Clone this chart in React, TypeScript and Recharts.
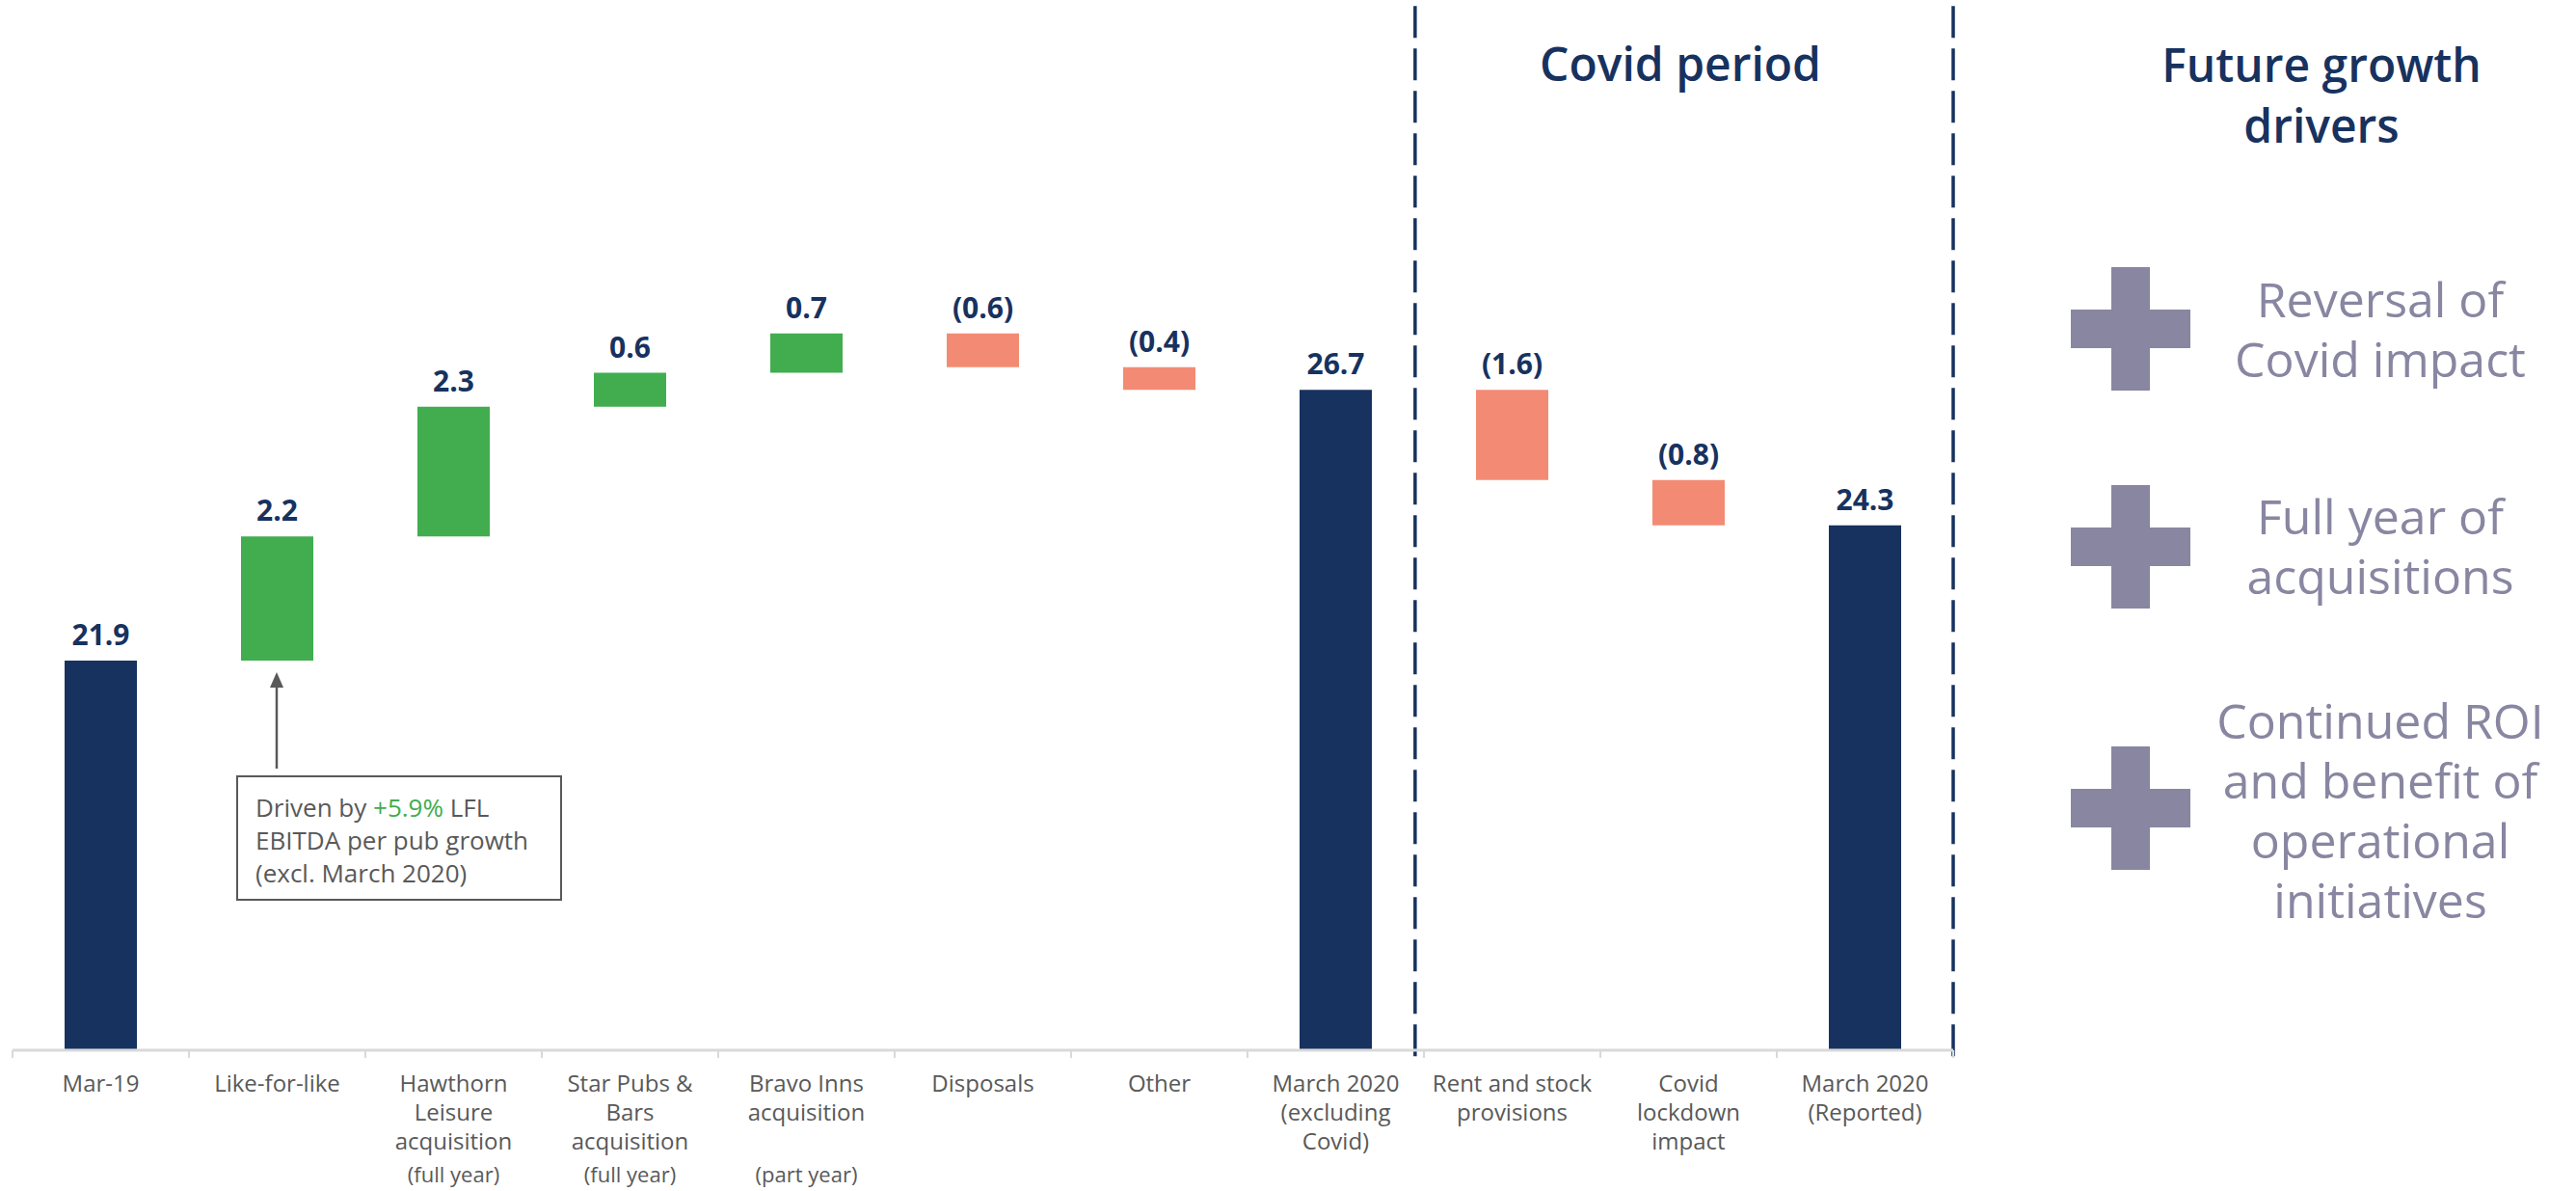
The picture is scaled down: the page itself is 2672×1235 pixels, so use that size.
import React from 'react';
import { BarChart, Bar, XAxis, YAxis, Cell, LabelList, ReferenceLine } from 'recharts';

const NAVY = '#17325F';
const GREEN = '#41AD4F';
const SALMON = '#F38B74';
const GRAY = '#595959';
const PURPLE = '#8886A1';
const AXIS_GRAY = '#D9D9D9';
const FONT = '"Open Sans", "Noto Sans", Arial, sans-serif';

const categories = [
  'Mar-19',
  'Like-for-like',
  'Hawthorn Leisure acquisition',
  'Star Pubs & Bars acquisition',
  'Bravo Inns acquisition',
  'Disposals',
  'Other',
  'March 2020 (excluding Covid)',
  'Rent and stock provisions',
  'Covid lockdown impact',
  'March 2020 (Reported)',
];

const tickLines: string[][] = [
  ['Mar-19'],
  ['Like-for-like'],
  ['Hawthorn', 'Leisure', 'acquisition'],
  ['Star Pubs &', 'Bars', 'acquisition'],
  ['Bravo Inns', 'acquisition'],
  ['Disposals'],
  ['Other'],
  ['March 2020', '(excluding', 'Covid)'],
  ['Rent and stock', 'provisions'],
  ['Covid', 'lockdown', 'impact'],
  ['March 2020', '(Reported)'],
];

const tickNotes = ['', '', '(full year)', '(full year)', '(part year)', '', '', '', '', '', ''];

const values = [21.9, 2.2, 2.3, 0.6, 0.7, -0.6, -0.4, 26.7, -1.6, -0.8, 24.3];
const isTotal = [true, false, false, false, false, false, false, true, false, false, true];

const Y_DOMAIN: [number, number] = [15, 30];
const X_TICKS = [0, 1, 2, 3, 4, 5, 6, 7, 8, 9, 10, 11];
const DIVIDERS = [7.95, 11];

const driverTitle = ['Future growth', 'drivers'];
const covidTitle = 'Covid period';
const drivers: string[][] = [
  ['Reversal of', 'Covid impact'],
  ['Full year of', 'acquisitions'],
  ['Continued ROI', 'and benefit of', 'operational', 'initiatives'],
];

let running = 0;
const data = categories.map((name, i) => {
  const v = values[i];
  let low: number;
  let high: number;
  if (isTotal[i]) {
    low = Y_DOMAIN[0];
    high = v;
    running = v;
  } else {
    const start = running;
    const end = running + v;
    low = Math.min(start, end);
    high = Math.max(start, end);
    running = end;
  }
  const label = isTotal[i] || v >= 0 ? v.toFixed(1) : `(${Math.abs(v).toFixed(1)})`;
  const color = isTotal[i] ? NAVY : v >= 0 ? GREEN : SALMON;
  return { name, range: [low, high], label, color, pos: i + 0.5 };
});

const renderLabel = (props: any) => {
  const vb = props.viewBox || props;
  const x = vb.x ?? props.x;
  const y = vb.y ?? props.y;
  const width = vb.width ?? props.width;
  return (
    <text
      x={x + width / 2}
      y={y - 16}
      textAnchor="middle"
      fill={NAVY}
      fontSize={30}
      fontWeight={700}
      fontFamily={FONT}
    >
      {props.value}
    </text>
  );
};

const EmptyTick = () => <g />;

const CategoryTick = (props: any) => {
  const { x, y, payload } = props;
  const i = categories.indexOf(payload.value);
  const lines = tickLines[i] || [];
  const note = tickNotes[i];
  return (
    <g>
      {lines.map((ln, k) => (
        <text
          key={k}
          x={x}
          y={y + 42 + k * 30}
          textAnchor="middle"
          fill={GRAY}
          fontSize={24}
          fontWeight={500}
          fontFamily={FONT}
        >
          {ln}
        </text>
      ))}
      {note ? (
        <text x={x} y={y + 136} textAnchor="middle" fill={GRAY} fontSize={22} fontWeight={500} fontFamily={FONT}>
          {note}
        </text>
      ) : null}
    </g>
  );
};

const Plus = ({ left, top }: { left: number; top: number }) => (
  <div style={{ position: 'absolute', left, top, width: 124, height: 128 }}>
    <div style={{ position: 'absolute', left: 42, top: 0, width: 40, height: 128, background: PURPLE }} />
    <div style={{ position: 'absolute', left: 0, top: 44, width: 124, height: 40, background: PURPLE }} />
  </div>
);

const driverTops = [279, 504, 716];
const plusTops = [277, 503, 774];

export default function App() {
  return (
    <div
      style={{
        position: 'absolute',
        left: 0,
        top: 0,
        width: 2672,
        height: 1235,
        background: '#ffffff',
        fontFamily: FONT,
        overflow: 'hidden',
      }}
    >
      <BarChart
        width={2672}
        height={1235}
        data={data}
        margin={{ top: 211, right: 646, left: 13, bottom: 0 }}
      >
        <XAxis
          xAxisId="a_num"
          type="number"
          dataKey="pos"
          domain={[0, 11]}
          ticks={X_TICKS}
          allowDataOverflow
          tick={EmptyTick}
          tickSize={8}
          tickLine={{ stroke: AXIS_GRAY, strokeWidth: 2 }}
          axisLine={{ stroke: AXIS_GRAY, strokeWidth: 3 }}
          height={1}
        />
        <XAxis
          xAxisId="b_cat"
          dataKey="name"
          type="category"
          axisLine={false}
          tickLine={false}
          tickSize={0}
          tickMargin={0}
          interval={0}
          tick={<CategoryTick />}
          height={145}
        />
        <YAxis hide type="number" domain={Y_DOMAIN} allowDataOverflow />
        <Bar xAxisId="b_cat" dataKey="range" barSize={75} isAnimationActive={false}>
          {data.map((d, i) => (
            <Cell key={i} fill={d.color} />
          ))}
          <LabelList dataKey="label" content={renderLabel} />
        </Bar>
        {DIVIDERS.map((dx, i) => (
          <ReferenceLine
            key={i}
            xAxisId="a_num"
            segment={[
              { x: dx, y: 33.5 },
              { x: dx, y: 14.87 },
            ]}
            ifOverflow="visible"
            stroke={NAVY}
            strokeWidth={3.5}
            strokeDasharray="33 11"
          />
        ))}
      </BarChart>

      {/* annotation arrow */}
      <svg
        width={2672}
        height={1235}
        style={{ position: 'absolute', left: 0, top: 0, pointerEvents: 'none' }}
      >
        <line x1={287} y1={797} x2={287} y2={711} stroke={GRAY} strokeWidth={2.5} />
        <polygon points="287,697 280,713 294,713" fill={GRAY} />
      </svg>

      {/* annotation box */}
      <div
        style={{
          position: 'absolute',
          left: 245,
          top: 804,
          width: 334,
          height: 126,
          border: `2px solid ${GRAY}`,
          boxSizing: 'content-box',
          padding: 0,
        }}
      >
        <div
          style={{
            position: 'absolute',
            left: 18,
            top: 14,
            fontSize: 26,
            lineHeight: '34px',
            color: GRAY,
            fontWeight: 500,
            whiteSpace: 'nowrap',
          }}
        >
          <div>
            Driven by <span style={{ color: GREEN }}>+5.9%</span> LFL
          </div>
          <div>EBITDA per pub growth</div>
          <div>(excl. March 2020)</div>
        </div>
      </div>

      {/* Covid period title */}
      <div
        style={{
          position: 'absolute',
          left: 1543,
          top: 36,
          width: 400,
          textAlign: 'center',
          fontSize: 48,
          lineHeight: '60px',
          fontWeight: 600,
          color: NAVY,
        }}
      >
        {covidTitle}
      </div>

      {/* Future growth drivers title */}
      <div
        style={{
          position: 'absolute',
          left: 2208,
          top: 35,
          width: 400,
          textAlign: 'center',
          fontSize: 48,
          lineHeight: '63px',
          fontWeight: 600,
          color: NAVY,
        }}
      >
        {driverTitle.map((t, i) => (
          <div key={i}>{t}</div>
        ))}
      </div>

      {plusTops.map((t, i) => (
        <Plus key={i} left={2148} top={t} />
      ))}

      {drivers.map((lines, i) => (
        <div
          key={i}
          style={{
            position: 'absolute',
            left: 2269,
            top: driverTops[i],
            width: 400,
            textAlign: 'center',
            fontSize: 50,
            lineHeight: '62px',
            fontWeight: 500,
            color: PURPLE,
            whiteSpace: 'nowrap',
          }}
        >
          {lines.map((t, k) => (
            <div key={k}>{t}</div>
          ))}
        </div>
      ))}
    </div>
  );
}
